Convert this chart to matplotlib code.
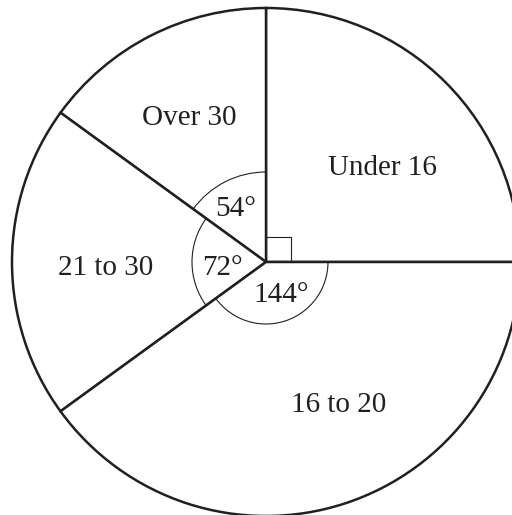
import matplotlib
matplotlib.use("Agg")
import matplotlib.pyplot as plt
from matplotlib.patches import Arc

# slice data (degrees), drawn counter-clockwise from 3 o'clock
labels = ['Under 16', 'Over 30', '21 to 30', '16 to 20']
angles = [90, 54, 72, 144]

# label positions in pixels (x, baseline y measured from top)
label_pos = [(382, 175), (189, 125), (106, 275), (339, 412)]
angle_text = ['54°', '72°', '144°']
angle_text_pos = [(236, 216), (222, 275), (281, 302)]
arc_radius = [90, 74, 62]

W, H = 512, 515
ink = '#231f20'
cx, cy, R = 266, H - 262, 254

fig = plt.figure(figsize=(W / 100, H / 100), dpi=100)
ax = fig.add_axes([0, 0, 1, 1])

ax.pie(angles, startangle=0, counterclock=True, center=(cx, cy), radius=R,
       colors=['white'] * len(angles),
       wedgeprops=dict(edgecolor=ink, linewidth=1.8))

# angle arcs for the three non-right slices
starts = [angles[0], angles[0] + angles[1], angles[0] + angles[1] + angles[2]]
for st, sz, r in zip(starts, angles[1:], arc_radius):
    ax.add_patch(Arc((cx, cy), 2 * r, 2 * r, theta1=st, theta2=st + sz,
                     color=ink, linewidth=0.8))

# right angle marker
s = 25
ax.plot([cx, cx + s, cx + s], [cy + s, cy + s, cy], color=ink, linewidth=0.8)

font = dict(family='Liberation Serif', size=21, color=ink, ha='center', va='baseline')
for lab, (x, y) in zip(labels, label_pos):
    ax.text(x, H - y, lab, **font)
for lab, (x, y) in zip(angle_text, angle_text_pos):
    ax.text(x, H - y, lab, **font)

ax.set_xlim(0, W)
ax.set_ylim(0, H)
ax.set_aspect('auto')
ax.axis('off')

fig.savefig('out.png', dpi=100, facecolor='white')
